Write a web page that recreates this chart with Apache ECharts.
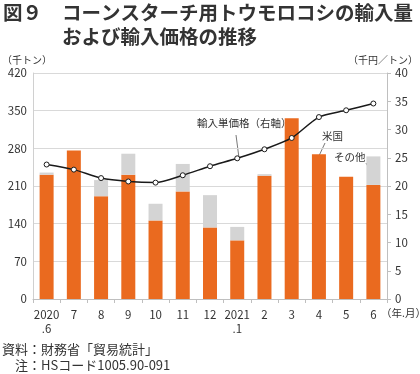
<!DOCTYPE html>
<html><head><meta charset="utf-8">
<script src="https://cdn.jsdelivr.net/npm/echarts@6/dist/echarts.min.js"></script>
<style>html,body{margin:0;padding:0;background:#fff}#c{width:420px;height:374px}</style>
</head><body><div id="c"></div>
<script>
const categories = ['2020\n.6','7','8','9','10','11','12','2021\n.1','2','3','4','5','6'];
const usVolume = [231, 276, 191, 231, 146, 200, 133, 109, 229, 336, 269, 227, 212];
const otherVolume = [4, 0, 30, 39, 31, 51, 60, 25, 3, 0, 0, 0, 53];
const unitPrice = [23.8, 22.9, 21.4, 20.8, 20.6, 21.9, 23.5, 24.9, 26.5, 28.5, 32.2, 33.4, 34.6];
const leftTicks = [0, 70, 140, 210, 280, 350, 420];
const rightTicks = [0, 5, 10, 15, 20, 25, 30, 35, 40];

const FONT = '"Noto Sans CJK JP", "Noto Sans", sans-serif';
const chart = echarts.init(document.getElementById('c'), null, {renderer: 'canvas'});
const txt = '#333';
chart.setOption({
  animation: false,
  textStyle: {fontFamily: FONT},
  grid: {left: 33, right: 33, top: 73, bottom: 75},
  xAxis: {
    type: 'category', data: categories,
    axisLine: {lineStyle: {color: '#bfbfbf'}},
    axisTick: {show: true, lineStyle: {color: '#bfbfbf'}, length: 4},
    axisLabel: {color: txt, fontSize: 11.5, lineHeight: 14, margin: 9, interval: 0, fontFamily: FONT}
  },
  yAxis: [{
    type: 'value', min: leftTicks[0], max: leftTicks[leftTicks.length-1], interval: 70,
    axisLine: {show: true, lineStyle: {color: '#d0d0d0'}},
    axisTick: {show: false},
    splitLine: {lineStyle: {color: '#d9d9d9'}},
    axisLabel: {color: txt, fontSize: 11.5, margin: 6, fontFamily: FONT}
  }, {
    type: 'value', min: rightTicks[0], max: rightTicks[rightTicks.length-1], interval: 5,
    position: 'right',
    axisLine: {show: true, lineStyle: {color: '#bfbfbf'}},
    axisTick: {show: true, length: 4, lineStyle: {color: '#bfbfbf'}},
    splitLine: {show: false},
    axisLabel: {color: txt, fontSize: 11.5, margin: 8, fontFamily: FONT}
  }],
  series: [{
    name: '米国', type: 'bar', stack: 'v', data: usVolume, barWidth: 14,
    itemStyle: {color: '#EA6A1F'}
  }, {
    name: 'その他', type: 'bar', stack: 'v', data: otherVolume, barWidth: 14,
    itemStyle: {color: '#D4D4D4'}
  }, {
    name: '輸入単価格', type: 'line', yAxisIndex: 1, data: unitPrice, smooth: 0.25,
    symbol: 'circle', symbolSize: 5,
    lineStyle: {color: '#1a1a1a', width: 1.5},
    itemStyle: {color: '#fff', borderColor: '#1a1a1a', borderWidth: 1}
  }],
  graphic: [
    {type: 'text', left: 3, top: 3, style: {text: '図９', font: 'bold 19.5px ' + FONT, fill: '#333'}},
    {type: 'text', left: 62, top: 3, style: {text: 'コーンスターチ用トウモロコシの輸入量', font: 'bold 19.5px ' + FONT, fill: '#333'}},
    {type: 'text', left: 62, top: 27, style: {text: 'および輸入価格の推移', font: 'bold 19.5px ' + FONT, fill: '#333'}},
    {type: 'text', left: 2, top: 55, style: {text: '（千トン）', font: '10px ' + FONT, fill: txt}},
    {type: 'text', right: 2, top: 55, style: {text: '（千円／トン）', font: '10px ' + FONT, fill: txt}},
    {type: 'text', left: 381, top: 308, style: {text: '（年.月）', font: '10.5px ' + FONT, fill: txt}},
    {type: 'text', left: 197, top: 118, style: {text: '輸入単価格（右軸）', font: '10.5px ' + FONT, fill: txt}},
    {type: 'line', shape: {x1: 236, y1: 135, x2: 239, y2: 158}, style: {stroke: '#555', lineWidth: 0.8}},
    {type: 'text', left: 322, top: 131, style: {text: '米国', font: '10.5px ' + FONT, fill: txt}},
    {type: 'line', shape: {x1: 325, y1: 143, x2: 318, y2: 158}, style: {stroke: '#555', lineWidth: 0.8}},
    {type: 'text', left: 334, top: 152, style: {text: 'その他', font: '10.5px ' + FONT, fill: txt}},
    {type: 'line', shape: {x1: 366, y1: 163, x2: 371, y2: 172}, style: {stroke: '#555', lineWidth: 0.8}},
    {type: 'text', left: 2, top: 343, style: {text: '資料：財務省「貿易統計」', font: '13px ' + FONT, fill: txt}},
    {type: 'text', left: 15, top: 359, style: {text: '注：HSコード1005.90-091', font: '13px ' + FONT, fill: txt}}
  ]
});
</script></body></html>
